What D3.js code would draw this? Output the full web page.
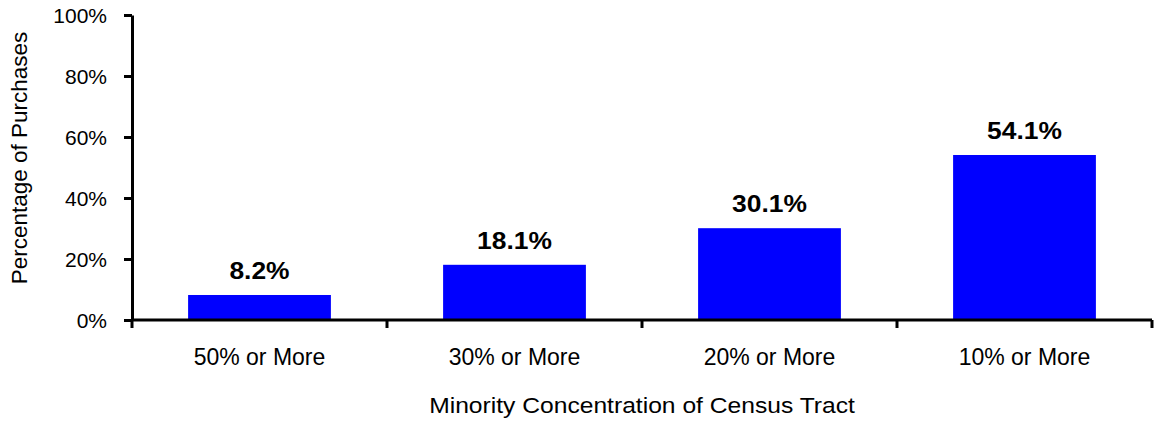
<!DOCTYPE html>
<html>
<head>
<meta charset="utf-8">
<script src="https://cdn.jsdelivr.net/npm/d3@7"></script>
<style>
  body { margin: 0; background: #fff; }
  text { font-family: Arial, "Liberation Sans", sans-serif; fill: #000; }
</style>
</head>
<body>
<div id="container"></div>
<script>
// chart data
let categories = ["50% or More", "30% or More", "20% or More", "10% or More"];
let values = [8.2, 18.1, 30.1, 54.1];
let yTicks = [0, 20, 40, 60, 80, 100];

let w = 1154;
let h = 421;

let viz = d3.select("#container")
  .append("svg")
    .attr("width", w)
    .attr("height", h)
;

let plotLeft = 132, plotRight = 1152, plotTop = 15, plotBottom = 320;

let x = d3.scaleBand()
  .domain(categories)
  .range([plotLeft, plotRight])
  .padding(0);

let y = d3.scaleLinear()
  .domain([0, 100])
  .range([plotBottom, plotTop]);

let barW = x.bandwidth() * 0.56;

// bars
viz.selectAll(".bar").data(values).enter()
  .append("rect")
    .attr("class", "bar")
    .attr("x", function(d, i) { return x(categories[i]) + (x.bandwidth() - barW) / 2; })
    .attr("y", function(d) { return y(d); })
    .attr("width", barW)
    .attr("height", function(d) { return y(0) - y(d); })
    .attr("fill", "#0000ff")
;

// value labels (text a bit wider than normal in the original)
viz.selectAll(".val").data(values).enter()
  .append("text")
    .attr("class", "val")
    .attr("transform", function(d, i) {
      return "translate(" + (x(categories[i]) + x.bandwidth() / 2) + "," + (y(d) - 16) + ") scale(1.1,1)";
    })
    .attr("text-anchor", "middle")
    .attr("font-size", 24)
    .attr("font-weight", "bold")
    .text(function(d) { return d.toFixed(1) + "%"; })
;

// y axis
let yAxis = viz.append("g")
  .attr("transform", "translate(" + plotLeft + ",0)")
  .call(d3.axisLeft(y).tickValues(yTicks).tickSize(8).tickSizeOuter(0).tickPadding(16)
    .tickFormat(function(d) { return d + "%"; }));
yAxis.select(".domain").attr("stroke", "#000").attr("stroke-width", 3);
yAxis.selectAll(".tick line").attr("stroke", "#000").attr("stroke-width", 3);
yAxis.selectAll(".tick text")
  .attr("font-size", 21)
  .attr("font-family", "Arial, 'Liberation Sans', sans-serif")
  .attr("x", -25)
  .attr("dy", "0.35em");

// x axis (ticks at band boundaries)
let xg = viz.append("g");
xg.append("line")
  .attr("x1", plotLeft).attr("x2", plotRight)
  .attr("y1", plotBottom).attr("y2", plotBottom)
  .attr("stroke", "#000").attr("stroke-width", 3);
let bounds = categories.map(function(c) { return x(c); }).concat([plotRight]);
xg.selectAll(".xt").data(bounds).enter()
  .append("line")
    .attr("x1", function(d) { return d; })
    .attr("x2", function(d) { return d; })
    .attr("y1", plotBottom)
    .attr("y2", plotBottom + 8)
    .attr("stroke", "#000").attr("stroke-width", 3)
;
xg.selectAll(".xl").data(categories).enter()
  .append("text")
    .attr("x", function(d) { return x(d) + x.bandwidth() / 2; })
    .attr("y", 365)
    .attr("text-anchor", "middle")
    .attr("font-size", 23)
    .text(function(d) { return d; })
;

// axis titles
viz.append("text")
  .attr("transform", "translate(642,413) scale(1.12,1)")
  .attr("text-anchor", "middle")
  .attr("font-size", 22)
  .text("Minority Concentration of Census Tract");

viz.append("text")
  .attr("transform", "translate(27,158) rotate(-90)")
  .attr("text-anchor", "middle")
  .attr("font-size", 22.5)
  .text("Percentage of Purchases");
</script>
</body>
</html>
